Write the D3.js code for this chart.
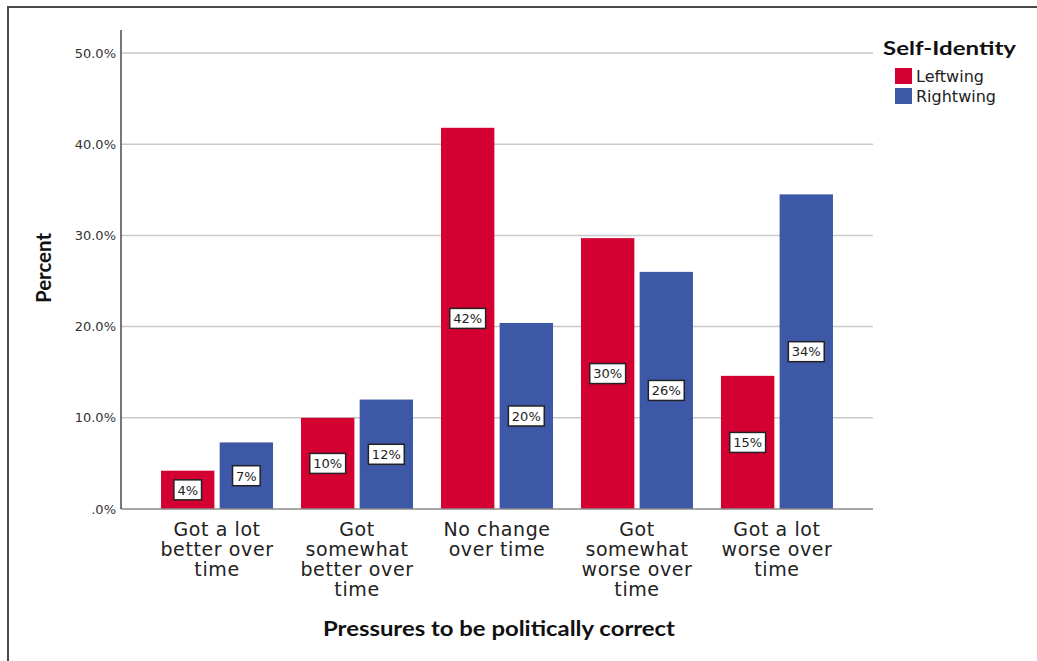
<!DOCTYPE html>
<html>
<head>
<meta charset="utf-8">
<script src="https://cdn.jsdelivr.net/npm/d3@7"></script>
<style>
  html, body { margin: 0; padding: 0; background: #fff; }
  svg { display: block; }
</style>
</head>
<body>
<svg id="chart" width="1037" height="661"></svg>
<script>
const categories = [
  ["Got a lot", "better over", "time"],
  ["Got", "somewhat", "better over", "time"],
  ["No change", "over time"],
  ["Got", "somewhat", "worse over", "time"],
  ["Got a lot", "worse over", "time"]
];
const categoryKeys = ["c1", "c2", "c3", "c4", "c5"];
const series = ["Leftwing", "Rightwing"];
const leftwing = [4.2, 10.0, 41.8, 29.7, 14.6];
const rightwing = [7.3, 12.0, 20.4, 26.0, 34.5];
const barLabelsLeft = ["4%", "10%", "42%", "30%", "15%"];
const barLabelsRight = ["7%", "12%", "20%", "26%", "34%"];
const yTicks = [0, 10, 20, 30, 40, 50];
const colors = ["#d50032", "#3e58a8"];

const svg = d3.select("#chart");
const plotLeft = 121, plotRight = 873, plotTop = 53, plotBottom = 509;

// frame
svg.append("path")
  .attr("d", "M8,661 L8,7 L1037,7")
  .attr("fill", "none").attr("stroke", "#4a4a4a").attr("stroke-width", 2);

const y = d3.scaleLinear().domain([0, 50]).range([plotBottom, plotTop]);
const x0 = d3.scaleBand().domain(categoryKeys).range([plotLeft, plotRight])
  .paddingInner(0.2).paddingOuter(0.286);
const x1 = d3.scaleBand().domain(series).range([0, x0.bandwidth()]).paddingInner(0.09);

// gridlines
svg.append("g").selectAll("line").data(yTicks.filter(d => d > 0)).join("line")
  .attr("x1", plotLeft).attr("x2", plotRight)
  .attr("y1", d => y(d)).attr("y2", d => y(d))
  .attr("stroke", "#c9c9c9").attr("stroke-width", 1.5);

// y axis
const yAxis = d3.axisLeft(y).tickValues(yTicks).tickSize(0).tickPadding(5)
  .tickFormat(d => d === 0 ? ".0%" : d3.format(".1f")(d) + "%");
const gy = svg.append("g").attr("transform", `translate(${plotLeft},0)`).call(yAxis);
gy.select(".domain").remove();
gy.selectAll("text").attr("font-family", "DejaVu Sans").attr("font-size", 13).attr("fill", "#333");

// bars
const data = categoryKeys.map((k, i) => ({
  key: k,
  vals: [
    {s: series[0], v: leftwing[i], lab: barLabelsLeft[i]},
    {s: series[1], v: rightwing[i], lab: barLabelsRight[i]}
  ]
}));

const groups = svg.append("g").selectAll("g").data(data).join("g")
  .attr("transform", d => `translate(${x0(d.key)},0)`);

groups.selectAll("rect").data(d => d.vals).join("rect")
  .attr("x", d => x1(d.s)).attr("width", x1.bandwidth())
  .attr("y", d => y(d.v)).attr("height", d => y(0) - y(d.v))
  .attr("fill", (d, i) => colors[i]);

// x axis line
svg.append("line").attr("x1", plotLeft).attr("x2", plotRight)
  .attr("y1", y(0)).attr("y2", y(0)).attr("stroke", "#8a8a8a").attr("stroke-width", 1.5);
// y axis line
svg.append("line").attr("x1", plotLeft).attr("x2", plotLeft)
  .attr("y1", 30).attr("y2", y(0)).attr("stroke", "#4a4a4a").attr("stroke-width", 1.5);

// bar labels
groups.each(function(d) {
  const g = d3.select(this);
  d.vals.forEach(v => {
    const cx = x1(v.s) + x1.bandwidth() / 2;
    const cy = (y(v.v) + y(0)) / 2;
    const lg = g.append("g");
    const rect = lg.append("rect");
    const t = lg.append("text").attr("x", cx).attr("y", cy + 4.8)
      .attr("text-anchor", "middle").attr("font-family", "DejaVu Sans")
      .attr("font-size", 13).attr("fill", "#222").text(v.lab);
    const w = t.node().getComputedTextLength() + 7;
    rect.attr("x", cx - w / 2).attr("y", cy - 10).attr("width", w).attr("height", 20)
      .attr("fill", "#fff").attr("stroke", "#222").attr("stroke-width", 1.5);
  });
});

// category labels
svg.append("g").selectAll("text").data(categoryKeys).join("text")
  .attr("transform", d => `translate(${x0(d) + x0.bandwidth() / 2},0)`)
  .attr("text-anchor", "middle").attr("font-family", "DejaVu Sans")
  .attr("font-size", 19).attr("letter-spacing", 0.6).attr("fill", "#222")
  .each(function(d, i) {
    d3.select(this).selectAll("tspan").data(categories[i]).join("tspan")
      .attr("x", 0).attr("y", (l, j) => 536 + j * 20).text(l => l);
  });

// axis titles
svg.append("text").attr("x", 323).attr("y", 636)
  .attr("font-family", "Lato").attr("font-weight", "bold").attr("font-size", 20)
  .attr("textLength", 352).attr("lengthAdjust", "spacingAndGlyphs").attr("fill", "#111")
  .text("Pressures to be politically correct");

svg.append("text").attr("transform", "translate(51,268) rotate(-90)")
  .attr("text-anchor", "middle")
  .attr("font-family", "Lato").attr("font-weight", "bold").attr("font-size", 20)
  .attr("textLength", 70).attr("lengthAdjust", "spacingAndGlyphs")
  .attr("fill", "#111").text("Percent");

// legend
svg.append("text").attr("x", 883).attr("y", 55)
  .attr("font-family", "Lato").attr("font-weight", "bold").attr("font-size", 19.5)
  .attr("textLength", 133).attr("lengthAdjust", "spacingAndGlyphs").attr("fill", "#111")
  .text("Self-Identity");

const leg = svg.append("g").selectAll("g").data(series).join("g")
  .attr("transform", (d, i) => `translate(895,${68 + i * 20})`);
leg.append("rect").attr("width", 17).attr("height", 16).attr("fill", (d, i) => colors[i]);
leg.append("text").attr("x", 21).attr("y", 14)
  .attr("font-family", "DejaVu Sans").attr("font-size", 16).attr("fill", "#222")
  .text(d => d);
</script>
</body>
</html>
